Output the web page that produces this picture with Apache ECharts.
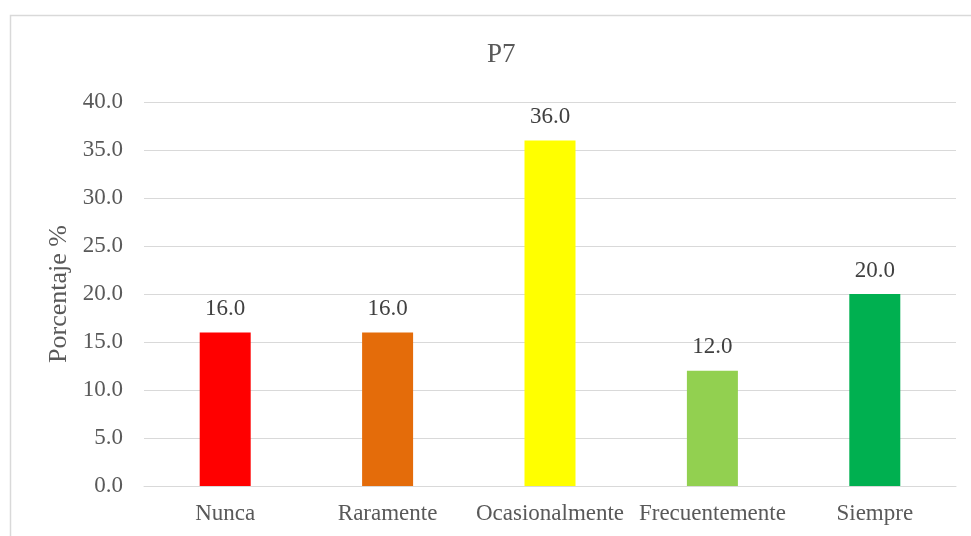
<!DOCTYPE html>
<html>
<head>
<meta charset="utf-8">
<script src="https://cdn.jsdelivr.net/npm/echarts@6/dist/echarts.min.js"></script>
<style>
  html, body { margin: 0; padding: 0; background: #fff; }
  #chart { width: 971px; height: 536px; }
</style>
</head>
<body>
<div id="chart"></div>
<script>
// Survey item P7: share of answers per frequency option
const categories = ['Nunca', 'Raramente', 'Ocasionalmente', 'Frecuentemente', 'Siempre'];
const percentages = [16.0, 16.0, 36.0, 12.0, 20.0];
const barColors = ['#FF0000', '#E46C0A', '#FFFF00', '#92D050', '#00B050'];

const FONT = '"Liberation Serif", "Times New Roman", serif';
const TEXT = '#595959';

const chart = echarts.init(document.getElementById('chart'));
chart.setOption({
  animation: false,
  graphic: [{
    type: 'rect',
    shape: { x: 10.5, y: 15.5, width: 980, height: 540 },
    style: { fill: 'none', stroke: '#d9d9d9', lineWidth: 1.5 },
    silent: true
  }],
  title: {
    text: 'P7',
    left: 482,
    top: 36,
    textStyle: { fontFamily: FONT, fontSize: 27, fontWeight: 'normal', color: TEXT }
  },
  grid: { left: 144, right: 15, top: 102, bottom: 50, containLabel: false },
  xAxis: {
    type: 'category',
    data: categories,
    axisLine: { lineStyle: { color: '#d9d9d9', width: 1 } },
    axisTick: { show: false },
    axisLabel: { fontFamily: FONT, fontSize: 23, color: TEXT, margin: 16, interval: 0 }
  },
  yAxis: {
    type: 'value',
    min: 0,
    max: 40,
    interval: 5,
    name: 'Porcentaje %',
    nameLocation: 'middle',
    nameGap: 70,
    nameTextStyle: { fontFamily: FONT, fontSize: 26, color: TEXT },
    axisLine: { show: false },
    axisTick: { show: false },
    splitLine: { lineStyle: { color: '#d9d9d9', width: 1 } },
    axisLabel: {
      fontFamily: FONT, fontSize: 23, color: TEXT, margin: 21,
      formatter: v => v.toFixed(1)
    }
  },
  series: [{
    type: 'bar',
    barWidth: 51,
    data: percentages.map((v, i) => ({ value: v, itemStyle: { color: barColors[i] } })),
    label: {
      show: true,
      position: 'top',
      distance: 12,
      fontFamily: FONT,
      fontSize: 23,
      color: '#404040',
      formatter: p => p.value.toFixed(1)
    }
  }]
});
</script>
</body>
</html>
